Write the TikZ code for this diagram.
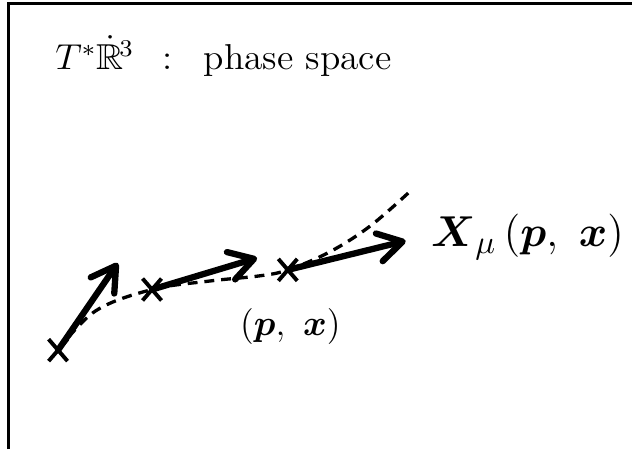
\documentclass[tikz,border=0pt]{standalone}
\usepackage{amsmath}
\usepackage{amssymb}
\usetikzlibrary{arrows.meta, shapes.misc}

\tikzset{
  xmark/.style={cross out, draw, line width=1.3pt, minimum width=5pt, minimum height=6pt, inner sep=0pt},
  vecarrow/.style={line width=2.1pt, line cap=round, -{Straight Barb[length=8pt, width=9.5pt, round]}},
  flowline/.style={line width=1.1pt, dash pattern=on 3.3pt off 2.3pt},
}

\begin{document}
\begin{tikzpicture}[scale=1]
    \useasboundingbox (0,0) rectangle (7.40,5.26);

    % Frame (top and left edges)
    \draw[line width=1.1pt] (0.10,0) -- (0.10,5.22) -- (7.40,5.22);

    % Title
    \node[anchor=base west, inner sep=0pt, xscale=1.04, transform shape] (title) at (0.64,4.45)
        {\fontsize{12}{14}\selectfont $T^*\dot{\mathbb{R}}^{\!3}$\hspace{9pt}:\hspace{10pt}phase space};

    % Points on the trajectory
    \node[xmark] (c1) at (0.68,1.16) {};
    \node[xmark] (c2) at (1.78,1.87) {};
    \node[xmark] (c3) at (3.37,2.10) {};

    % Tips of the vectors
    \coordinate (t1) at (1.38,2.18);
    \coordinate (t2) at (3.01,2.24);
    \coordinate (t3) at (4.75,2.44);

    % Trajectory (dashed)
    \draw[flowline] plot[smooth, tension=0.6] coordinates {(c1.center) (1.12,1.62) (c2.center) (2.46,1.97) (3.04,2.03) (c3.center) (3.86,2.31) (4.33,2.61) (4.78,3.00)};

    % Vector field X_mu
    \draw[vecarrow] (c1.center) -- (t1);
    \draw[vecarrow] (c2.center) -- (t2);
    \draw[vecarrow] (c3.center) -- (t3);

    % Labels
    \node[anchor=base, inner sep=0pt] (pt) at (3.40,1.33)
        {\fontsize{12}{14}\selectfont $(\boldsymbol{p},\ \boldsymbol{x})$};
    \node[anchor=base west, inner sep=0pt] (field) at (5.04,2.37)
        {\fontsize{15}{18}\selectfont $\boldsymbol{X}_{\mu}\,(\boldsymbol{p},\ \boldsymbol{x})$};

\end{tikzpicture}
\end{document}
